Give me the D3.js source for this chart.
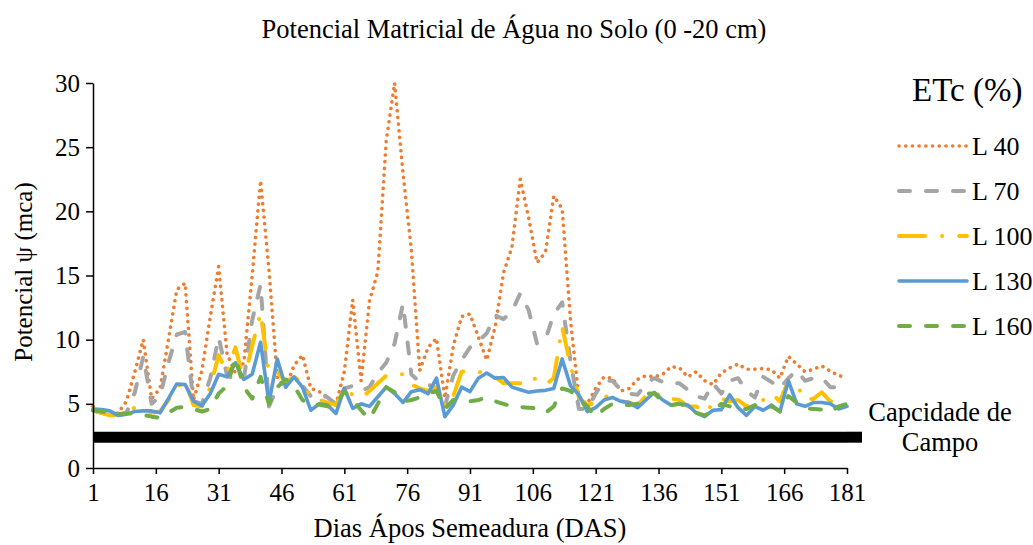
<!DOCTYPE html>
<html>
<head>
<meta charset="utf-8">
<script src="https://cdn.jsdelivr.net/npm/d3@7"></script>
<style>
  html, body { margin: 0; padding: 0; background: #fff; }
  svg text { font-family: "Liberation Serif", "Times New Roman", serif; fill: #000; }
</style>
</head>
<body>
<svg id="chart" width="1033" height="545"></svg>
<script>
// Days after sowing (readings every second day)
const days = [1,3,5,7,9,11,13,15,17,19,21,23,25,27,29,31,33,35,37,39,41,43,45,47,49,51,53,55,57,59,
  61,63,65,67,69,71,73,75,77,79,81,83,85,87,89,91,93,95,97,99,101,103,105,107,109,111,113,115,117,119,
  121,123,125,127,129,131,133,135,137,139,141,143,145,147,149,151,153,155,157,159,161,163,165,167,169,171,173,175,177,179,181];

// Matric potential (mca) for each irrigation level
const L40 = [4.8,4.3,4.1,4.3,5.2,7.5,10.0,5.4,6.2,10.0,13.9,14.4,5.3,7.6,11.8,15.7,8.9,7.4,8.2,15.0,
  22.4,15.5,7.0,6.3,8.0,8.8,6.2,5.95,5.5,4.95,7.5,13.1,6.8,13.0,15.3,25.5,30.0,23.0,17.0,7.6,
  9.4,10.1,5.45,9.5,11.8,12.0,10.2,8.4,11.0,15.2,17.2,22.5,19.5,16.0,16.8,21.2,20.2,11.5,5.4,5.0,
  6.2,7.1,7.0,6.0,6.2,6.9,7.2,7.1,7.3,7.9,7.8,7.1,7.5,6.8,6.5,7.4,7.8,8.1,7.7,7.7,
  7.75,7.65,7.0,8.7,8.1,7.5,7.7,7.95,7.55,7.2,7.05];

const L70 = [4.5,4.3,4.2,4.15,4.3,5.9,8.7,5.0,5.6,8.2,10.4,10.6,5.2,5.0,7.0,10.2,7.2,6.9,6.9,11.5,
  14.3,4.8,6.3,6.8,7.0,6.4,5.6,5.8,5.5,5.0,6.2,6.4,6.0,6.3,7.4,8.2,9.7,12.8,7.3,6.7,
  6.5,6.2,4.8,7.2,8.4,9.4,9.9,10.5,11.9,11.6,12.2,13.6,12.3,9.7,10.0,12.0,12.9,8.3,4.6,4.6,
  5.8,6.8,6.8,6.1,5.8,5.7,6.6,7.0,6.7,6.6,6.6,6.1,5.6,5.4,6.6,5.8,6.8,7.0,6.0,5.5,
  7.1,6.7,6.2,7.0,7.6,6.8,7.0,7.05,6.3,6.3,6.5];

const L100 = [4.5,4.3,4.1,4.15,4.4,4.7,4.6,4.3,4.4,5.3,6.3,6.8,4.9,4.8,6.3,8.8,7.4,9.4,6.8,9.5,
  12.1,7.4,7.5,6.7,7.1,6.6,5.5,5.3,5.1,4.9,6.2,5.7,5.45,6.0,6.6,7.2,7.4,7.3,6.5,6.2,
  6.0,6.3,4.8,5.6,7.5,7.6,7.5,7.3,7.1,6.6,6.6,6.6,7.1,6.9,6.5,7.0,11.0,8.0,5.5,4.9,
  5.1,5.6,5.5,5.2,5.1,4.9,5.6,6.0,5.4,5.4,5.3,4.8,4.8,4.3,5.0,5.4,5.2,5.3,4.8,5.0,
  5.3,5.8,5.2,6.8,6.5,5.3,5.4,5.9,5.2,5.25,5.6];

const L130 = [4.6,4.55,4.45,4.1,4.2,4.4,4.45,4.45,4.3,5.4,6.55,6.5,5.2,4.85,5.8,7.3,7.1,8.2,6.9,7.3,
  9.8,5.1,8.5,6.3,7.1,6.3,4.5,5.0,4.9,4.25,6.2,4.65,5.0,4.8,5.55,6.3,5.8,5.1,5.95,6.1,
  5.8,7.0,4.0,4.9,6.3,5.95,7.0,7.4,7.0,7.05,6.3,6.1,5.9,6.0,6.05,6.2,8.5,6.4,5.7,4.4,
  4.7,5.3,5.5,5.2,5.1,4.7,5.3,5.9,5.3,4.9,5.0,4.9,4.3,4.0,4.5,4.55,5.7,4.7,4.1,4.8,
  4.5,4.9,4.4,6.8,5.0,4.8,5.1,5.1,5.0,4.6,4.8];

const L160 = [4.5,4.4,4.3,4.2,4.25,4.25,4.15,4.0,3.9,4.3,4.7,4.75,4.6,4.4,4.6,5.8,6.4,8.6,6.3,5.4,
  7.1,5.0,6.3,6.9,6.4,5.3,4.85,4.95,4.8,4.9,6.0,5.3,4.5,3.8,5.0,6.3,5.9,5.2,5.3,5.5,
  5.8,6.0,4.6,5.3,5.35,5.2,5.3,5.5,5.2,5.0,4.8,4.75,4.7,4.65,4.3,4.8,6.2,6.0,5.35,4.8,
  4.0,4.6,5.0,4.9,4.9,5.0,5.8,5.8,5.2,4.9,5.0,4.8,4.3,4.1,4.4,5.0,4.8,4.55,4.6,4.9,
  4.65,4.8,4.4,5.6,5.1,4.65,4.6,4.55,4.35,4.8,5.0];

// Field capacity reference level (mca)
const fieldCapacity = 2.4;

const seriesNames = ["L 40", "L 70", "L 100", "L 130", "L 160"];
const seriesValues = [L40, L70, L100, L130, L160];
const seriesColors = ["#ED7D31", "#A5A5A5", "#FFC000", "#5B9BD5", "#70AD47"];
const seriesDash = ["0.1 6.6", "11 16", "26 17 0.1 17", null, "11 16"];
const seriesWidth = [3.6, 4, 4, 3.6, 4];

const xTicks = [1,16,31,46,61,76,91,106,121,136,151,166,181];
const yTicks = [0,5,10,15,20,25,30];

const svg = d3.select("#chart");
const margin = { left: 93, right: 186, top: 83, bottom: 77 };
const W = 1033, H = 545;

const x = d3.scaleLinear().domain([1, 181]).range([margin.left, W - margin.right]);
const y = d3.scaleLinear().domain([0, 30]).range([H - margin.bottom, margin.top]);

// Title
svg.append("text")
  .attr("x", 514).attr("y", 38)
  .attr("text-anchor", "middle")
  .style("font-size", "26.5px")
  .text("Potencial Matricial de Água no Solo (0 -20 cm)");

// Field capacity band
svg.append("path")
  .datum([days[0], days[days.length - 1]])
  .attr("fill", "none")
  .attr("stroke", "#000")
  .attr("stroke-width", 11)
  .attr("d", d3.line().x(d => x(d)).y(() => y(fieldCapacity)));

// Data series
const line = d3.line().x((d, i) => x(days[i])).y(d => y(d));
seriesValues.forEach((vals, k) => {
  svg.append("path")
    .datum(vals)
    .attr("fill", "none")
    .attr("stroke", seriesColors[k])
    .attr("stroke-width", seriesWidth[k])
    .attr("stroke-linejoin", "round")
    .attr("stroke-linecap", "round")
    .attr("stroke-dasharray", seriesDash[k])
    .attr("d", line);
});

// Axes
const xAxis = svg.append("g")
  .attr("transform", `translate(0,${y(0)})`)
  .call(d3.axisBottom(x).tickValues(xTicks).tickSize(6).tickPadding(9).tickSizeOuter(0));
xAxis.select(".domain").attr("stroke", "#000").attr("stroke-width", 1.5);
xAxis.selectAll(".tick line").attr("stroke", "#000").attr("stroke-width", 1.5);
xAxis.selectAll("text").style("font-size", "25px").attr("font-family", null);

const yAxis = svg.append("g")
  .attr("transform", `translate(${x(1)},0)`)
  .call(d3.axisLeft(y).tickValues(yTicks).tickSize(7).tickPadding(6).tickSizeOuter(0));
yAxis.select(".domain").attr("stroke", "#000").attr("stroke-width", 1.5);
yAxis.selectAll(".tick line").attr("stroke", "#000").attr("stroke-width", 1.5);
yAxis.selectAll("text").style("font-size", "25px").attr("font-family", null);
svg.selectAll(".tick text").attr("fill", "#000");

// Axis titles
svg.append("text")
  .attr("x", 470).attr("y", 537)
  .attr("text-anchor", "middle")
  .style("font-size", "26.5px")
  .text("Dias Ápos Semeadura (DAS)");

svg.append("text")
  .attr("transform", "translate(32,272) rotate(-90)")
  .attr("text-anchor", "middle")
  .style("font-size", "25px")
  .text("Potencial ψ (mca)");

// Legend
const legend = svg.append("g");
legend.append("text")
  .attr("x", 912).attr("y", 101)
  .style("font-size", "33px")
  .text("ETc (%)");

const legendY = d3.scalePoint().domain(seriesNames).range([146, 326]);
seriesNames.forEach((name, k) => {
  const ly = legendY(name);
  legend.append("line")
    .attr("x1", 899).attr("x2", 967)
    .attr("y1", ly).attr("y2", ly)
    .attr("stroke", seriesColors[k])
    .attr("stroke-width", seriesWidth[k])
    .attr("stroke-linecap", "round")
    .attr("stroke-dasharray", seriesDash[k]);
  legend.append("text")
    .attr("x", 972).attr("y", ly)
    .attr("dy", "0.34em")
    .style("font-size", "26px")
    .text(name);
});

legend.append("line")
  .attr("x1", 847).attr("x2", 862)
  .attr("y1", y(fieldCapacity)).attr("y2", y(fieldCapacity))
  .attr("stroke", "#000").attr("stroke-width", 11);
legend.append("text")
  .attr("x", 940).attr("y", 421)
  .attr("text-anchor", "middle")
  .style("font-size", "26.5px")
  .text("Capcidade de");
legend.append("text")
  .attr("x", 940).attr("y", 451)
  .attr("text-anchor", "middle")
  .style("font-size", "26.5px")
  .text("Campo");
</script>
</body>
</html>
